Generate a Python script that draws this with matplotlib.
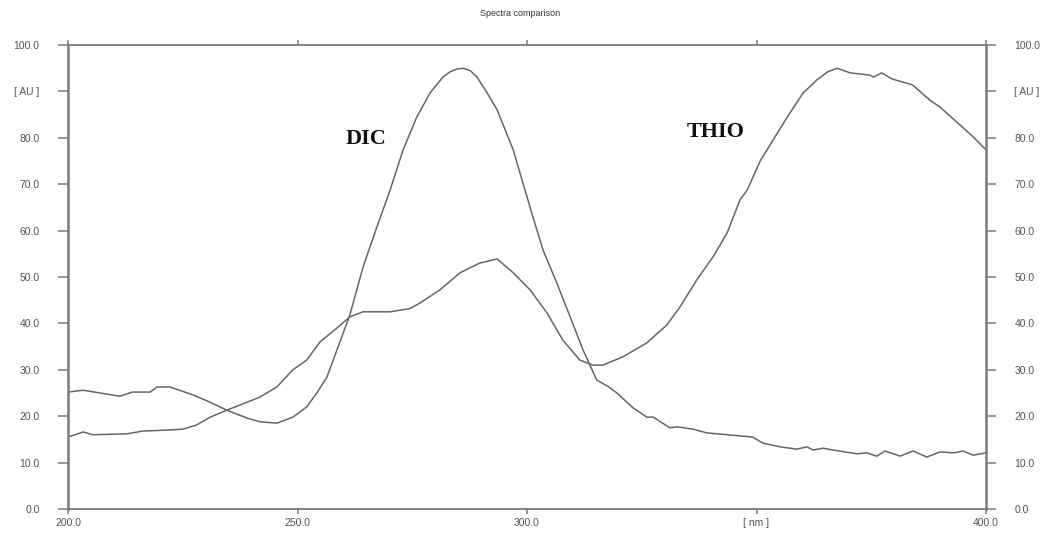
import matplotlib.pyplot as plt

# Data
dic_nm = [200, 203.3, 207, 211.3, 214, 217.9, 219.4, 222.2, 227.2, 231, 234.6, 239,
          241.8, 245.5, 249, 252, 254.2, 256.4, 258.6, 261.4, 264.3, 267.3, 270.2,
          273, 276, 278.9, 281.7, 283.2, 284.7, 286, 287.6, 289.1, 291.3, 293.5, 297,
          299.1, 301.3, 303.5, 306.5, 309.4, 312.2, 315.2, 317.5, 319.6, 323.1, 326.1,
          327.5, 331.1, 332.8, 336.2, 339.2, 344.9, 349.2, 351.4, 355.1, 358.8, 361,
          362.3, 364.5, 366.7, 371.9, 374, 376.2, 378, 381.3, 384.1, 387.1, 390, 393,
          395, 397.2, 400]
dic_au = [25.2, 25.6, 25.0, 24.3, 25.2, 25.2, 26.3, 26.3, 24.6, 23.0, 21.3, 19.6,
          18.8, 18.5, 19.8, 22.0, 25.0, 28.4, 34.3, 41.8, 52.2, 60.8, 68.8,
          77.4, 84.5, 89.7, 93.1, 94.2, 94.8, 95.0, 94.5, 93.1, 89.7, 86.0, 77.4,
          70.3, 62.9, 55.8, 48.7, 41.4, 34.3, 27.8, 26.5, 25.0, 21.8, 19.8,
          19.8, 17.5, 17.7, 17.2, 16.4, 15.9, 15.5, 14.2, 13.4, 12.9, 13.4,
          12.7, 13.1, 12.7, 11.9, 12.1, 11.4, 12.5, 11.4, 12.5, 11.2, 12.3, 12.1,
          12.5, 11.6, 12.1]

thio_nm = [200, 203.3, 205.4, 212.8, 216.3, 221.5, 225, 228, 231, 234.6, 241.8,
           245.5, 249, 252, 254.9, 258.6, 261.4, 264.3, 270.2, 274.5, 276.7, 281,
           285.4, 289.7, 291.5, 293.5, 297, 300.7, 304.4, 307.8, 311.5, 314.4, 316.5,
           320.9, 326.1, 330.5, 333.3, 337, 340.5, 343.6, 346.4, 348, 350.8, 353.6,
           356.6, 360.1, 363.2, 365.5, 367.5, 370.4, 374.7, 375.5, 377.3, 379.5, 384,
           387.8, 390, 394.3, 397.2, 400]
thio_au = [15.5, 16.6, 16.0, 16.2, 16.8, 17.0, 17.2, 18.1, 19.8, 21.3, 24.1,
           26.3, 30.0, 32.1, 36.0, 39.0, 41.4, 42.5, 42.5, 43.2, 44.4, 47.2,
           50.9, 53.0, 53.4, 53.9, 50.9, 47.2, 42.2, 36.4, 32.1, 31.0, 31.0,
           32.8, 35.8, 39.7, 43.5, 49.4, 54.3, 59.5, 66.6, 68.8, 75.0, 79.5,
           84.3, 89.6, 92.5, 94.2, 95.0, 94.0, 93.5, 93.1, 94.0, 92.7, 91.4,
           88.1, 86.6, 82.8, 80.2, 77.4]

y_ticks = [0, 10, 20, 30, 40, 50, 60, 70, 80, 90, 100]
y_labels = ['0.0', '10.0', '20.0', '30.0', '40.0', '50.0', '60.0', '70.0', '80.0', '[ AU ]', '100.0']
x_ticks = [200, 250, 300, 350, 400]
x_labels = ['200.0', '250.0', '300.0', '[ nm ]', '400.0']

line_color = '#666666'
axis_color = '#7a7a7a'
text_color = '#555555'

fig = plt.figure(figsize=(10.41, 5.33), dpi=100)
ax = fig.add_axes([68 / 1041, 1 - 509 / 533, (986 - 68) / 1041, (509 - 45) / 533])

ax.plot(dic_nm, dic_au, color=line_color, lw=1.1)
ax.plot(thio_nm, thio_au, color=line_color, lw=1.1)

ax.set_xlim(200, 400)
ax.set_ylim(0, 100)

for side in ['left', 'right']:
    ax.spines[side].set_color(axis_color)
    ax.spines[side].set_linewidth(1.8)
for side in ['top', 'bottom']:
    ax.spines[side].set_color(axis_color)
    ax.spines[side].set_linewidth(1.3)

ax.set_yticks(y_ticks)
ax.set_yticklabels(y_labels)
ax.set_xticks(x_ticks)
ax.set_xticklabels(x_labels)
ax.tick_params(axis='y', which='both', left=True, right=True, labelleft=True,
               labelright=True, direction='out', length=7.5, width=1.1,
               color=axis_color, pad=13, labelsize=7.5, labelcolor=text_color)
ax.tick_params(axis='x', which='both', bottom=True, top=True, direction='out',
               length=3.5, width=1.1, color=axis_color, pad=3,
               labelsize=7.5, labelcolor=text_color)
for lab in ax.get_xticklabels() + ax.get_yticklabels():
    lab.set_fontfamily('Liberation Sans')

fig.text(0.5, 1 - 14 / 533, 'Spectra comparison', ha='center', va='center',
         fontsize=6.5, color='#333333', family='Liberation Sans')

ax.text(265, 79.8, 'DIC', fontsize=16, family='Liberation Serif', weight='bold',
        ha='center', va='center', color='#111111')
ax.text(341.2, 81.3, 'THIO', fontsize=16, family='Liberation Serif', weight='bold',
        ha='center', va='center', color='#111111')

fig.savefig('out.png', dpi=100, facecolor='white')
